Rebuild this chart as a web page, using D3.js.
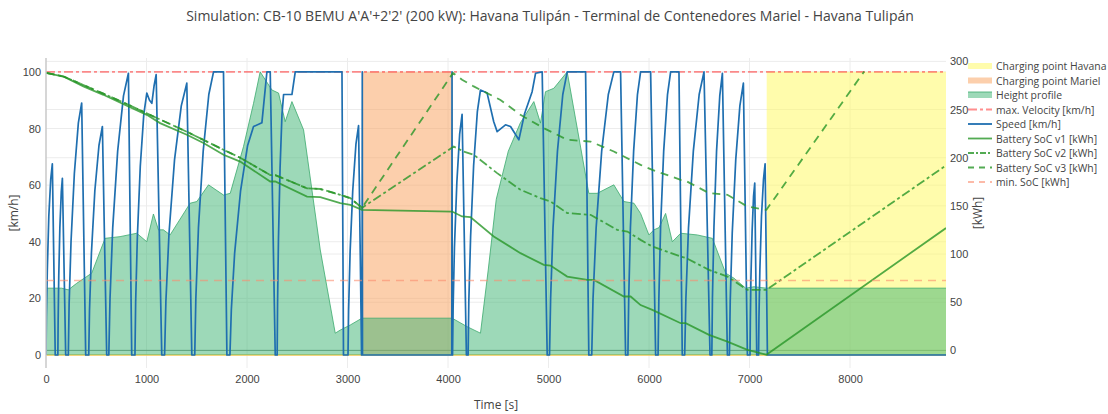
<!DOCTYPE html>
<html lang="en">
<head>
<meta charset="utf-8">
<title>Simulation: CB-10 BEMU</title>
<script src="https://d3js.org/d3.v7.min.js"></script>
<style>
  body { margin: 0; background: #fff; }
  svg { width: 1108px; height: 414px; font-family: "Open Sans", verdana, arial, sans-serif; }
  .tick text { fill: #444; font-size: 11px; }
  .title { fill: #444; font-size: 14px; }
  .axis-title { fill: #444; font-size: 12px; }
  .legend text { fill: #444; font-size: 10.4px; }
</style>
</head>
<body>
<svg></svg>
<script>
// ---- data ----
const timeTicks = [0, 1000, 2000, 3000, 4000, 5000, 6000, 7000, 8000];
const speedTicks = [0, 20, 40, 60, 80, 100];
const socTicks = [0, 50, 100, 150, 200, 250, 300];

const timeEnd = 8955;
const chargingHavana = [7171, 8955];
const chargingMariel = [3147, 4044];
const chargingLevel = 100;
const maxVelocity = 100;   // km/h
const minSoC = 72.5;       // kWh

// [time s, speed km/h]
const speed = [
  [0,0],[4,13.5],[13,30],[28,49],[47,62],[63,67.5],[92,0],[118,0],
  [121,12.5],[127,28],[138,45],[152,57.5],[163,62.4],[196,0],[222,0],
  [230,18],[249,40],[282,64],[322,82],[355,89],[395,0],[425,0],
  [433,16],[452,36],[486,58],[527,74],[561,80.7],[604,0],[625,0],
  [637,20],[664,45],[713,72],[771,91.5],[820,99.5],[853,0],[885,0],
  [892,18.5],[909,41.6],[938,66.6],[973,85],[1003,92.5],[1030,90],[1053,88.9],[1075,95],[1096,99],[1152,0],[1180,0],
  [1193,19],[1224,43],[1279,69],[1346,88],[1401,96],[1451,0],[1480,0],
  [1491,20],[1517,45],[1564,72],[1620,92],[1667,100],[1766,100],[1800,0],[1830,0],
  [1844,16],[1877,36],[1936,58],[2006,74],[2065,80.7],[2148,82],[2198,100],[2231,100],[2281,0],[2300,0],
  [2304,18],[2313,41],[2329,66],[2348,85],[2364,92],[2447,92],[2480,100],[2945,100],[2960,0],[3005,0],
  [3011,16],[3026,36.5],[3052,58],[3084,74.5],[3110,81],[3140,0],[3145,0],[3147,100],[3149,0],
  [4038,0],[4040,100],[4042,0],[4045,0],
  [4051,17],[4064,38],[4088,61],[4116,78],[4140,85],[4183,0],[4200,0],
  [4207,19],[4225,42],[4255,67],[4292,86],[4323,93.6],[4389,92.5],[4455,82.4],[4489,78.9],[4572,81.3],[4622,80.7],[4705,76],[4760,85],[4837,93],[4871,99.5],[4937,100],[4987,0],[5010,0],
  [5021,20],[5045,45],[5089,72],[5142,92],[5186,100],[5369,100],[5401,0],[5430,0],
  [5443,20],[5474,45],[5529,72],[5595,92],[5650,100],[5717,100],[5767,0],[5790,0],
  [5798,20],[5815,45],[5847,72],[5885,92],[5916,100],[6016,100],[6066,0],[6090,0],
  [6098,20],[6115,45],[6146,72],[6184,92],[6215,100],[6298,100],[6331,0],[6355,0],
  [6367,20],[6393,45],[6441,72],[6499,92],[6547,100],[6607,0],[6625,0],
  [6631,20],[6646,45],[6672,72],[6704,91.5],[6730,99.5],[6780,0],[6800,0],
  [6808,19],[6828,43],[6863,69],[6904,88],[6939,96],[6979,0],[7005,0],
  [7008,12],[7014,27],[7026,44],[7040,56],[7052,60.7],[7072,0],[7090,0],
  [7094,13.5],[7103,30],[7119,49],[7139,62],[7155,67.5],[7178,0],[8955,0]
];

// [time s, relative height] (left axis)
const heightProfile = [
  [0,23.6],[156,23.6],[222,23],[305,25.3],[405,27.7],[455,28.9],[588,41.2],[737,41.8],[903,43],[1003,40],
  [1069,49.8],[1119,44.2],[1168,44.2],[1235,42.4],[1434,53.6],[1501,54.2],[1617,60.1],[1766,56.5],[1833,57.1],
  [1965,73.6],[2065,88.9],[2131,100],[2248,93.6],[2314,92.5],[2380,82.4],[2447,89.5],[2563,79.5],[2729,37.1],
  [2878,7.7],[2928,8.8],[3028,10.6],[3144,13],[4041,13],[4190,10],[4323,7.7],[4400,30],[4480,55],[4600,72],
  [4720,82],[4854,89.5],[4920,81.9],[4970,93],[5053,94.2],[5186,100],[5401,57.1],[5485,57.1],[5650,60.1],
  [5750,54.2],[5850,53.6],[5916,50],[5999,42.4],[6049,44.2],[6100,45],[6165,50],[6232,40],[6315,43],
  [6481,42.4],[6630,41.2],[6763,28.9],[6846,27.1],[6962,23.6],[7045,24.1],[7168,23.6],[8955,23.6]
];

// [time s, kWh] (right axis)
const socV1 = [
  [0,288],[172,284.3],[372,274],[571,265.3],[820,253.2],[1003,244.5],[1135,235.9],[1401,223.8],[1567,215.2],
  [1766,203],[1932,196],[2231,175.3],[2281,175.3],[2597,159.7],[2729,159],[2928,152.9],[3028,151.1],[3144,145.9],
  [4041,144.1],[4140,139],[4223,138.3],[4455,118.2],[4721,100.9],[4953,88.8],[5020,88.1],[5186,76.6],[5385,73.2],
  [5452,73.2],[5750,55.9],[5817,55.9],[5916,47],[6033,42],[6315,28.2],[6365,28.2],[6597,16.1],[6780,9.1],
  [6979,0.5],[7168,-4.5],[8955,127]
];
const socV2 = [
  [0,288],[172,284.5],[372,275.5],[571,266.5],[820,255],[1003,246],[1401,227],[1766,208.2],[1932,200],
  [2231,182],[2281,182],[2597,168.2],[2729,167.5],[2928,161.5],[3028,158],[3144,148],
  [4057,211.6],[4156,206.4],[4256,203],[4489,184],[4721,166.7],[4920,158],[5020,154.5],[5186,142.5],[5418,140.7],
  [5684,125.1],[5784,123.4],[5916,114.7],[6033,107.8],[6315,97.4],[6365,96],[6597,83.6],[6780,76.6],[6979,62.8],
  [7168,62.8],[8955,192]
];
const socV3 = [
  [0,288],[172,284.5],[372,275.5],[571,266.5],[820,255],[1003,246],[1401,227],[1766,208.2],[1932,200],
  [2231,182],[2281,182],[2597,168.2],[2729,167.5],[2928,161.5],[3028,158],[3144,148],
  [4050,288],[4140,280.9],[4256,274],[4522,260],[4721,244.5],[4953,230.7],[5186,218.6],[5418,216.8],[5650,206.4],
  [5750,201.2],[5916,192.6],[6033,187.4],[6315,177],[6365,176],[6597,163.2],[6780,161.5],[6979,149.3],[7168,145.9],
  [8141,289.5]
];

const legendNames = [
  "Charging point Havana", "Charging point Mariel", "Height profile", "max. Velocity [km/h]",
  "Speed [km/h]", "Battery SoC v1 [kWh]", "Battery SoC v2 [kWh]", "Battery SoC v3 [kWh]", "min. SoC [kWh]"
];

// ---- layout ----
const plot = { left: 46, right: 946, top: 58, bottom: 368 };
const svg = d3.select("svg");

const x = d3.scaleLinear().domain([0, timeEnd]).range([plot.left, plot.right]);
const yL = d3.scaleLinear().domain([-4.6, 104.9]).range([plot.bottom, plot.top]);
const yR = d3.scaleLinear().domain([-18.3, 303.5]).range([plot.bottom, plot.top]);

svg.append("clipPath").attr("id", "clip")
   .append("rect")
   .attr("x", plot.left).attr("y", plot.top)
   .attr("width", plot.right - plot.left).attr("height", plot.bottom - plot.top);

// grid
const grid = svg.append("g").attr("stroke", "#ececec").attr("stroke-width", 1);
grid.selectAll(".gx").data(timeTicks.slice(1)).enter().append("line")
    .attr("x1", d => x(d)).attr("x2", d => x(d))
    .attr("y1", plot.top).attr("y2", plot.bottom);
grid.selectAll(".gl").data(speedTicks.slice(1)).enter().append("line")
    .attr("x1", plot.left).attr("x2", plot.right)
    .attr("y1", d => yL(d)).attr("y2", d => yL(d));
grid.selectAll(".gr").data(socTicks.slice(1)).enter().append("line")
    .attr("x1", plot.left).attr("x2", plot.right)
    .attr("y1", d => yR(d)).attr("y2", d => yR(d));

// right axis zero line
svg.append("line")
   .attr("x1", plot.left).attr("x2", plot.right)
   .attr("y1", yR(0)).attr("y2", yR(0))
   .attr("stroke", "#7a8a80").attr("stroke-width", 1);

const g = svg.append("g").attr("clip-path", "url(#clip)");

const line = (ys) => d3.line().x(d => x(d[0])).y(d => ys(d[1]));
const areaL = d3.area().x(d => x(d[0])).y0(yL(0)).y1(d => yL(d[1]));

// charging areas (left axis, 0..100)
const yellowFill = "rgba(255,250,90,0.5)";
const orangeFill = "rgba(250,160,90,0.5)";
g.append("path")
 .attr("d", areaL([[chargingHavana[0], chargingLevel], [chargingHavana[1], chargingLevel]]))
 .attr("fill", yellowFill);
g.append("path")
 .attr("d", areaL([[chargingMariel[0], chargingLevel], [chargingMariel[1], chargingLevel]]))
 .attr("fill", orangeFill);
g.append("path")
 .attr("d", line(yL)([[0, 0], [timeEnd, 0]]))
 .attr("stroke", "rgba(240,200,90,0.8)").attr("stroke-width", 2).attr("fill", "none");

// height profile
const heightFill = "rgba(60,179,113,0.5)";
const heightLine = "rgba(60,170,110,0.8)";
g.append("path").attr("d", areaL(heightProfile)).attr("fill", heightFill);
g.append("path").attr("d", line(yL)(heightProfile))
 .attr("fill", "none").attr("stroke", heightLine).attr("stroke-width", 1);

// max velocity
const redLine = "rgba(255,50,50,0.55)";
g.append("path").attr("d", line(yL)([[0, maxVelocity], [timeEnd, maxVelocity]]))
 .attr("fill", "none").attr("stroke", redLine).attr("stroke-width", 1.6)
 .attr("stroke-dasharray", "9,3,3,3");

// speed
const blue = "#1f6fb0";
g.append("path").attr("d", line(yL)(speed))
 .attr("fill", "none").attr("stroke", blue).attr("stroke-width", 1.7)
 .attr("stroke-linejoin", "round");

// battery SoC
const green = "rgba(40,150,40,0.8)";
const socDash = ["", "9,3,3,3", "8,6"];
[socV1, socV2, socV3].forEach((s, i) => {
  g.append("path").attr("d", line(yR)(s))
   .attr("fill", "none").attr("stroke", green).attr("stroke-width", 1.8)
   .attr("stroke-dasharray", socDash[i] || null);
});

// min SoC
const salmon = "rgba(250,140,110,0.6)";
g.append("path").attr("d", line(yR)([[0, minSoC], [timeEnd, minSoC]]))
 .attr("fill", "none").attr("stroke", salmon).attr("stroke-width", 1.6)
 .attr("stroke-dasharray", "8,6");

// axes
const ax = svg.append("g").attr("transform", `translate(0,${plot.bottom})`)
  .call(d3.axisBottom(x).tickValues(timeTicks).tickFormat(d3.format("d")).tickSize(0).tickPadding(7));
ax.select(".domain").remove();

const ay = svg.append("g").attr("transform", `translate(${plot.left},0)`)
  .call(d3.axisLeft(yL).tickValues(speedTicks).tickSize(0).tickPadding(5));
ay.select(".domain").remove();

const ar = svg.append("g").attr("transform", `translate(${plot.right},0)`)
  .call(d3.axisRight(yR).tickValues(socTicks).tickSize(0).tickPadding(4));
ar.select(".domain").remove();

svg.append("line")
   .attr("x1", plot.left).attr("x2", plot.left)
   .attr("y1", plot.top).attr("y2", plot.bottom)
   .attr("stroke", "#c8c8c8").attr("stroke-width", 1.5);

// titles
svg.append("text").attr("class", "title")
   .attr("x", 550).attr("y", 21).attr("text-anchor", "middle")
   .text("Simulation: CB-10 BEMU A'A'+2'2' (200 kW): Havana Tulipán - Terminal de Contenedores Mariel - Havana Tulipán");

svg.append("text").attr("class", "axis-title")
   .attr("x", (plot.left + plot.right) / 2).attr("y", 409).attr("text-anchor", "middle")
   .text("Time [s]");

svg.append("text").attr("class", "axis-title")
   .attr("transform", `translate(18,${(plot.top + plot.bottom) / 2}) rotate(-90)`)
   .attr("text-anchor", "middle")
   .text("[km/h]");

svg.append("text").attr("class", "axis-title")
   .attr("transform", `translate(982,${(plot.top + plot.bottom) / 2}) rotate(-90)`)
   .attr("text-anchor", "middle")
   .text("[kWh]");

// legend
const legendStyle = [
  { type: "fill", fill: yellowFill },
  { type: "fill", fill: orangeFill },
  { type: "fill", fill: heightFill, stroke: heightLine },
  { type: "line", stroke: redLine, dash: "9,3,3,3" },
  { type: "line", stroke: blue },
  { type: "line", stroke: green },
  { type: "line", stroke: green, dash: "6,2,2,2" },
  { type: "line", stroke: green, dash: "6,5" },
  { type: "line", stroke: salmon, dash: "6,5" }
];
const legend = svg.append("g").attr("class", "legend");
const item = legend.selectAll("g").data(legendNames).enter().append("g")
  .attr("transform", (d, i) => `translate(968,${66 + i * 14.5})`);
item.each(function(d, i) {
  const s = legendStyle[i];
  const el = d3.select(this);
  if (s.type === "fill") {
    el.append("rect").attr("x", 0).attr("y", -3).attr("width", 24).attr("height", 6).attr("fill", s.fill);
    if (s.stroke) el.append("line").attr("x1", 0).attr("x2", 24).attr("y1", -3).attr("y2", -3)
                    .attr("stroke", s.stroke).attr("stroke-width", 1);
  } else {
    el.append("line").attr("x1", 0).attr("x2", 24).attr("y1", 0).attr("y2", 0)
      .attr("stroke", s.stroke).attr("stroke-width", 1.8)
      .attr("stroke-dasharray", s.dash || null);
  }
  el.append("text").attr("x", 28).attr("y", 4).text(d);
});
</script>
</body>
</html>
